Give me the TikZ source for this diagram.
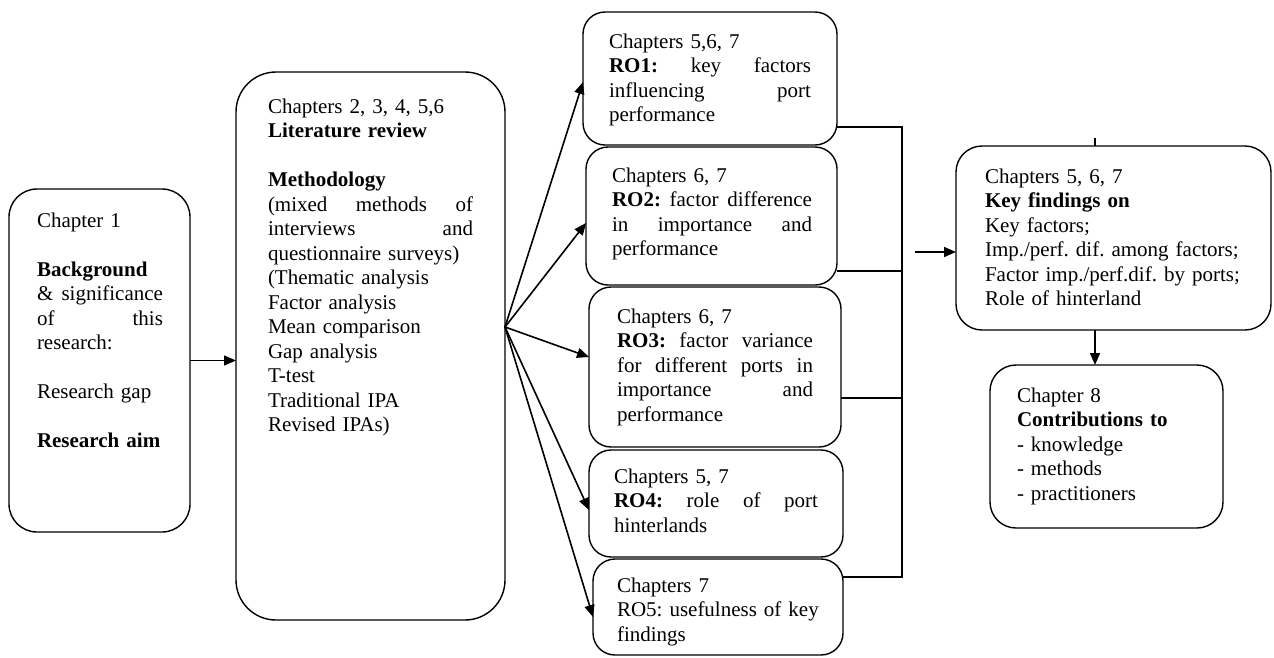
\documentclass[tikz,border=0pt]{standalone}
\usepackage{fontspec}
\setmainfont{Liberation Serif}
\usetikzlibrary{arrows.meta}
\newcommand{\jl}[2]{\leavevmode\hbox to #1{#2}}
\newcommand{\firstline}{\rule{0pt}{16pt}}
\frenchspacing
\tikzset{
  rbox/.style={draw, line width=1.4pt, rounded corners=#1, inner sep=0pt, outer sep=0pt},
  txt/.style={anchor=north west, inner sep=0pt, outer sep=0pt, align=left,
              font=\fontsize{21}{24.5}\selectfont\frenchspacing},
  arr/.style={line width=1.6pt, -{Triangle[length=12pt,width=10pt]}},
  bus/.style={line width=1.2pt}
}
\begin{document}
\begin{tikzpicture}[x=1pt,y=-1pt]
\useasboundingbox (0,0) rectangle (1274,657);
% boxes
\node[rbox=28pt, minimum width=181pt, minimum height=343pt] (b1) at (99.5,360.5) {};
\node[rbox=40pt, minimum width=269pt, minimum height=548pt] (b2) at (370.5,346) {};
\node[rbox=22pt, minimum width=254pt, minimum height=133pt] (ro1) at (710,78.5) {};
\node[rbox=22pt, minimum width=251pt, minimum height=138pt] (ro2) at (711.5,216) {};
\node[rbox=22pt, minimum width=252pt, minimum height=160pt] (ro3) at (715,367) {};
\node[rbox=22pt, minimum width=254pt, minimum height=107pt] (ro4) at (716,503.5) {};
\node[rbox=22pt, minimum width=250pt, minimum height=96pt] (ro5) at (718,607) {};
\node[rbox=26pt, minimum width=315pt, minimum height=184pt] (key) at (1113.5,238) {};
\node[rbox=26pt, minimum width=233pt, minimum height=163pt] (con) at (1106.5,446.5) {};
% texts
\node[txt, text width=140pt] (t1) at (37,211) {\firstline Chapter 1\\[24.5pt]
\textbf{Background}\\
\jl{126pt}{\&\hfill significance}\\
\jl{126pt}{of\hfill this}\\
research:\\[24.5pt]
Research gap\\[24.5pt]
\textbf{Research aim}};
\node[txt, text width=220pt] (t2) at (268,97) {\firstline Chapters 2, 3, 4, 5,6\\
\textbf{Literature review}\\[24.5pt]
\textbf{Methodology}\\
\jl{205pt}{(mixed\hfill methods\hfill of}\\
\jl{205pt}{interviews\hfill and}\\
questionnaire surveys)\\
(Thematic analysis\\
Factor analysis\\
Mean comparison\\
Gap analysis\\
T-test\\
Traditional IPA\\
Revised IPAs)};
\node[txt, text width=215pt] (tr1) at (609,32) {\firstline Chapters 5,6, 7\\
\jl{202pt}{\textbf{RO1:}\hfill key\hfill factors}\\
\jl{202pt}{influencing\hfill port}\\
performance};
\node[txt, text width=215pt] (tr2) at (612,166) {\firstline Chapters 6, 7\\
\jl{200pt}{\textbf{RO2:}\hfill factor\hfill difference}\\
\jl{200pt}{in\hfill importance\hfill and}\\
performance};
\node[txt, text width=215pt] (tr3) at (617,307) {\firstline Chapters 6, 7\\
\jl{196pt}{\textbf{RO3:}\hfill factor\hfill variance}\\
\jl{196pt}{for\hfill different\hfill ports\hfill in}\\
\jl{196pt}{importance\hfill and}\\
performance};
\node[txt, text width=215pt] (tr4) at (614,467) {\firstline Chapters 5, 7\\
\jl{204pt}{\textbf{RO4:}\hfill role\hfill of\hfill port}\\
hinterlands};
\node[txt, text width=240pt] (tr5) at (617,576) {\firstline Chapters 7\\
RO5: usefulness of key\\
findings};
\node[txt, text width=300pt] (tk) at (985,167) {\firstline Chapters 5, 6, 7\\
\textbf{Key findings on}\\
Key factors;\\
Imp./perf. dif. among factors;\\
Factor imp./perf.dif. by ports;\\
Role of hinterland};
\node[txt, text width=200pt] (tc) at (1017,386) {\firstline Chapter 8\\
\textbf{Contributions to}\\
- knowledge\\
- methods\\
- practitioners};
% connectors
\draw[arr] (b1.east) -- (b1.east -| b2.west);
\coordinate (fan) at ([yshift=19pt]b2.east);
\draw[arr] (fan) -- ([yshift=-3.5pt]ro1.west);
\draw[arr] (fan) -- ([yshift=-7pt]ro2.west);
\draw[arr] (fan) -- ([yshift=10pt]ro3.west);
\draw[arr] (fan) -- ([yshift=-6.5pt]ro4.west);
\draw[arr] (fan) -- ([yshift=-10pt]ro5.west);
\coordinate (busT) at (902,127);
\coordinate (busB) at (902,577);
\coordinate (bus2) at (902,271);
\coordinate (bus3) at (902,398);
\draw[bus] (ro1.east |- busT) -- (busT) -- (busB) -- (ro5.east |- busB);
\draw[bus] (ro2.east |- bus2) -- (bus2);
\draw[bus] (ro3.east |- bus3) -- (bus3);
\coordinate (ka) at (915,252);
\draw[arr] (ka) -- (key.west |- ka);
\coordinate (kx) at (1095,138);
\draw[bus] (kx) -- (key.north -| kx);
\draw[arr] (key.south -| kx) -- (con.north -| kx);
\end{tikzpicture}
\end{document}
